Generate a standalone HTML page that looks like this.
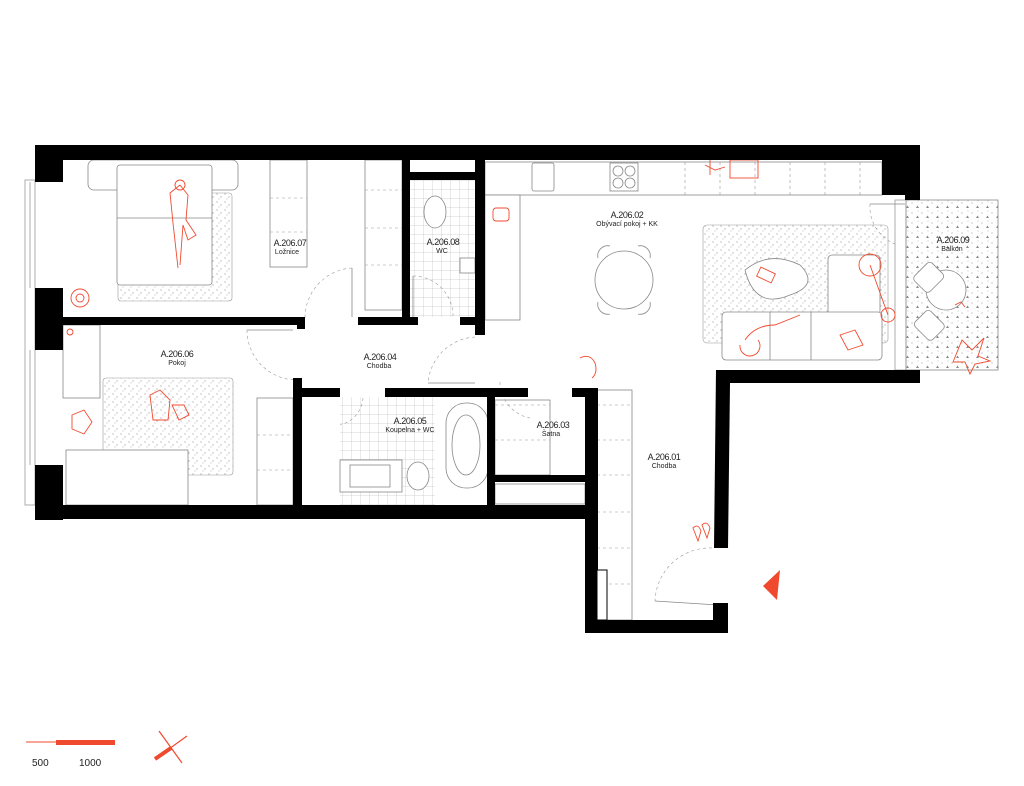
<!DOCTYPE html>
<html><head><meta charset="utf-8"><style>
html,body{margin:0;padding:0;background:#fff;}
svg{display:block;}
text{font-family:"Liberation Sans",sans-serif;fill:#222;}
.c{font-size:9px;letter-spacing:-0.4px;}
.n{font-size:7px;}
</style></head><body>
<svg width="1024" height="786" viewBox="0 0 1024 786" xmlns="http://www.w3.org/2000/svg">
<defs>
<pattern id="dots" width="8" height="8" patternUnits="userSpaceOnUse">
<circle cx="1" cy="2" r="0.5" fill="#666"/><circle cx="5" cy="5" r="0.5" fill="#666"/><circle cx="3" cy="7" r="0.4" fill="#666"/>
</pattern>
<pattern id="tri" width="10" height="10" patternUnits="userSpaceOnUse">
<circle cx="2" cy="3" r="0.5" fill="#777"/><path d="M6 8 l1.5 -2.5 l1.5 2.5z" fill="#888"/><circle cx="8" cy="1" r="0.4" fill="#777"/>
</pattern>
<pattern id="tile" width="9" height="9" patternUnits="userSpaceOnUse">
<path d="M0 0H9M0 0V9" stroke="#aaa" stroke-width="0.5" fill="none"/>
</pattern>
</defs>

<!-- floor fills -->
<rect x="410" y="180" width="65" height="137" fill="url(#tile)"/>
<rect x="340" y="397" width="95" height="108" fill="url(#tile)"/>
<rect x="118" y="193" width="114" height="108" fill="url(#dots)" stroke="#999" stroke-width="0.6" rx="3"/>
<rect x="103" y="378" width="130" height="97" fill="url(#dots)" stroke="#999" stroke-width="0.6" rx="3"/>
<rect x="703" y="225" width="185" height="118" fill="url(#dots)" stroke="#999" stroke-width="0.6" rx="4"/>
<rect x="906" y="200" width="92" height="170" fill="url(#tri)" stroke="#888" stroke-width="0.8"/>

<!-- windows -->
<g stroke="#999" stroke-width="0.8" fill="none">
<rect x="25" y="180" width="10" height="325"/>
<line x1="30" y1="182" x2="30" y2="288"/><line x1="30" y1="350" x2="30" y2="465"/>
<rect x="895" y="200" width="11" height="170"/>
</g>

<!-- furniture (grey) -->
<g stroke="#888" stroke-width="0.8" fill="#fff">
<rect x="88" y="160" width="150" height="30" rx="6"/>
<rect x="117" y="165" width="95" height="120" rx="3"/>
<line x1="117" y1="218" x2="212" y2="218"/>
<rect x="270" y="160" width="37" height="107"/>
<rect x="365" y="160" width="37" height="150"/>
<rect x="460" y="258" width="15" height="15"/>
<ellipse cx="435" cy="212" rx="11" ry="16"/>
<rect x="63" y="325" width="37" height="73"/>
<rect x="66" y="450" width="122" height="55"/>
<rect x="257" y="398" width="36" height="107"/>
<rect x="340" y="460" width="62" height="32"/><rect x="350" y="465" width="40" height="22"/>
<ellipse cx="418" cy="476" rx="11" ry="14"/>
<rect x="446" y="403" width="42" height="85" rx="20"/>
<ellipse cx="466" cy="445" rx="14" ry="30"/>
<rect x="495" y="400" width="55" height="75"/>
<rect x="495" y="484" width="90" height="20"/>
<rect x="597" y="390" width="35" height="230"/>
<rect x="485" y="162" width="397" height="33"/>
<rect x="485" y="195" width="35" height="125"/>
<rect x="532" y="163" width="22" height="28" rx="2"/>
<rect x="610" y="163" width="28" height="28"/>
<circle cx="618" cy="171" r="5"/><circle cx="630" cy="171" r="5"/><circle cx="618" cy="183" r="5"/><circle cx="630" cy="183" r="5"/>
<circle cx="624" cy="280" r="29"/>
<path d="M598 258 a10 10 0 0 1 12 -12 M638 246 a10 10 0 0 1 12 12 M598 302 a10 10 0 0 0 12 12 M638 314 a10 10 0 0 0 12 -12" fill="none"/>
<path d="M745 270 q25 -20 55 -5 q20 20 -10 30 q-35 15 -45 -25z"/>
<rect x="828" y="255" width="52" height="60" rx="4"/>
<rect x="722" y="312" width="160" height="48" rx="4"/>
<line x1="770" y1="312" x2="770" y2="360"/><line x1="811" y1="312" x2="811" y2="360"/>
<ellipse cx="946" cy="290" rx="20" ry="20"/>
<rect x="918" y="265" width="22" height="25" rx="4" transform="rotate(45 929 277)"/>
<rect x="918" y="313" width="22" height="25" rx="4" transform="rotate(-45 929 325)"/>
</g>
<g stroke="#999" stroke-width="0.6" stroke-dasharray="3,3" fill="none">
<line x1="270" y1="198" x2="307" y2="198"/><line x1="270" y1="232" x2="307" y2="232"/>
<line x1="365" y1="190" x2="402" y2="190"/><line x1="365" y1="228" x2="402" y2="228"/><line x1="365" y1="265" x2="402" y2="265"/>
<line x1="597" y1="405" x2="632" y2="405"/><line x1="597" y1="440" x2="632" y2="440"/><line x1="597" y1="475" x2="632" y2="475"/><line x1="597" y1="512" x2="632" y2="512"/><line x1="597" y1="548" x2="632" y2="548"/><line x1="597" y1="584" x2="632" y2="584"/>
<line x1="257" y1="435" x2="293" y2="435"/><line x1="257" y1="470" x2="293" y2="470"/>
<line x1="495" y1="405" x2="550" y2="405"/><line x1="495" y1="440" x2="550" y2="440"/>
<line x1="685" y1="162" x2="685" y2="195"/><line x1="720" y1="162" x2="720" y2="195"/><line x1="755" y1="162" x2="755" y2="195"/><line x1="790" y1="162" x2="790" y2="195"/><line x1="825" y1="162" x2="825" y2="195"/><line x1="860" y1="162" x2="860" y2="195"/>
<!-- door swings -->
<path d="M352 268 A50 50 0 0 0 305 318"/>
<path d="M247 330 A50 50 0 0 0 297 380"/>
<path d="M475 337 A50 50 0 0 0 428 383"/>
<path d="M413 276 A40 40 0 0 1 453 316"/>
<path d="M500 382 A37 37 0 0 0 530 418"/>
<path d="M712 548 A55 55 0 0 0 655 601"/>
<path d="M870 204 A40 40 0 0 0 895 244"/>
<path d="M363 398 A30 30 0 0 1 340 425"/>
</g>
<g stroke="#888" stroke-width="0.8" fill="none">
<line x1="352" y1="268" x2="352" y2="317"/><line x1="247" y1="330" x2="293" y2="330"/>
<line x1="428" y1="383" x2="475" y2="383"/><line x1="413" y1="276" x2="413" y2="317"/>
<line x1="655" y1="601" x2="718" y2="605"/><line x1="870" y1="204" x2="905" y2="204"/>
</g>

<!-- red elements -->
<g stroke="#f04a2e" stroke-width="0.9" fill="none">
<path d="M180 185 l8 10 l-2 25 l10 15 l-8 5 l-5 -15 l-3 40 M180 185 l-10 8 l3 30 l5 45"/>
<circle cx="180" cy="185" r="5"/>
<circle cx="80" cy="298" r="9"/><circle cx="80" cy="298" r="4"/>
<path d="M72 415 l12 -5 l8 12 l-8 12 l-12 -5z"/>
<circle cx="70" cy="332" r="3"/>
<path d="M150 395 l10 -5 l10 10 l-2 20 l-15 0z M172 405 l12 0 l5 10 l-10 5z"/>
<rect x="493" y="208" width="16" height="13" rx="3"/>
<path d="M580 358 q10 -5 15 5 q3 10 -3 15"/>
<path d="M705 165 l10 5 l10 -3 M710 160 l0 15"/>
<rect x="730" y="160" width="28" height="18"/>
<rect x="758" y="270" width="16" height="10" transform="rotate(25 766 275)"/>
<circle cx="870" cy="265" r="11"/><line x1="870" y1="265" x2="888" y2="315"/><circle cx="888" cy="315" r="7"/>
<path d="M745 340 q10 -15 30 -15 l25 -10 M740 345 a10 10 0 1 0 18 -5"/>
<path d="M840 335 l15 -5 l8 15 l-15 5z"/>
<path d="M962 340 l10 10 l12 -12 l-6 18 l12 5 l-15 3 l-5 10 l-5 -12 l-12 0z"/>
<path d="M955 305 l6 -3 l4 5"/>
<path d="M693 528 q5 -5 8 3 l-3 10z M702 525 q5 -5 8 3 l-3 10z"/>
</g>
<path d="M763 586 L780 570 L777 600 Z" fill="#f04a2e"/>

<!-- walls -->
<g fill="#000">
<rect x="35" y="145" width="885" height="15"/>
<rect x="35" y="145" width="28" height="37"/>
<rect x="35" y="288" width="28" height="62"/>
<rect x="35" y="465" width="28" height="55"/>
<rect x="905" y="145" width="15" height="55"/>
<rect x="882" y="145" width="23" height="50"/>
<rect x="35" y="505" width="562" height="14"/>
<rect x="585" y="388" width="13" height="245"/>
<rect x="585" y="620" width="143" height="13"/>
<rect x="713" y="603" width="15" height="30"/>
<polygon points="716,370 920,370 920,383 730,383 728,548 714,548"/>
<rect x="63" y="317" width="240" height="8"/>
<rect x="297" y="317" width="8" height="12"/>
<rect x="358" y="317" width="60" height="8"/>
<rect x="402" y="160" width="8" height="165"/>
<rect x="402" y="172" width="80" height="8"/>
<rect x="475" y="160" width="10" height="175"/>
<rect x="460" y="317" width="25" height="8"/>
<rect x="293" y="378" width="9" height="130"/>
<rect x="293" y="388" width="47" height="9"/>
<rect x="385" y="388" width="110" height="9"/>
<rect x="487" y="388" width="8" height="120"/>
<rect x="493" y="388" width="35" height="9"/>
<rect x="572" y="388" width="26" height="9"/>
<rect x="493" y="475" width="95" height="7"/>
<rect x="597" y="570" width="10" height="50" fill="#fff" stroke="#000" stroke-width="1"/>
</g>

<!-- labels -->
<g text-anchor="middle">
<text class="c" x="290" y="246">A.206.07</text><text class="n" x="287" y="254">Ložnice</text>
<text class="c" x="443" y="245">A.206.08</text><text class="n" x="442" y="253">WC</text>
<text class="c" x="627" y="218">A.206.02</text><text class="n" x="627" y="226">Obývací pokoj + KK</text>
<text class="c" x="953" y="243">A.206.09</text><text class="n" x="952" y="251">Balkon</text>
<text class="c" x="177" y="357">A.206.06</text><text class="n" x="177" y="365">Pokoj</text>
<text class="c" x="380" y="360">A.206.04</text><text class="n" x="379" y="368">Chodba</text>
<text class="c" x="410" y="424">A.206.05</text><text class="n" x="410" y="432">Koupelna + WC</text>
<text class="c" x="553" y="428">A.206.03</text><text class="n" x="551" y="436">Šatna</text>
<text class="c" x="664" y="460">A.206.01</text><text class="n" x="664" y="468">Chodba</text>
</g>

<!-- scale & north -->
<line x1="26" y1="742" x2="56" y2="742" stroke="#f04a2e" stroke-width="1"/>
<rect x="56" y="740" width="59" height="5" fill="#f04a2e"/>
<text x="32" y="766" style="font-size:10px">500</text>
<text x="79" y="766" style="font-size:10px">1000</text>
<g stroke="#f04a2e" stroke-width="1.2">
<line x1="159" y1="731" x2="182" y2="763"/>
<line x1="155" y1="759" x2="187" y2="736"/>
<line x1="155" y1="759" x2="171" y2="748" stroke-width="4"/>
</g>
</svg>
</body></html>
